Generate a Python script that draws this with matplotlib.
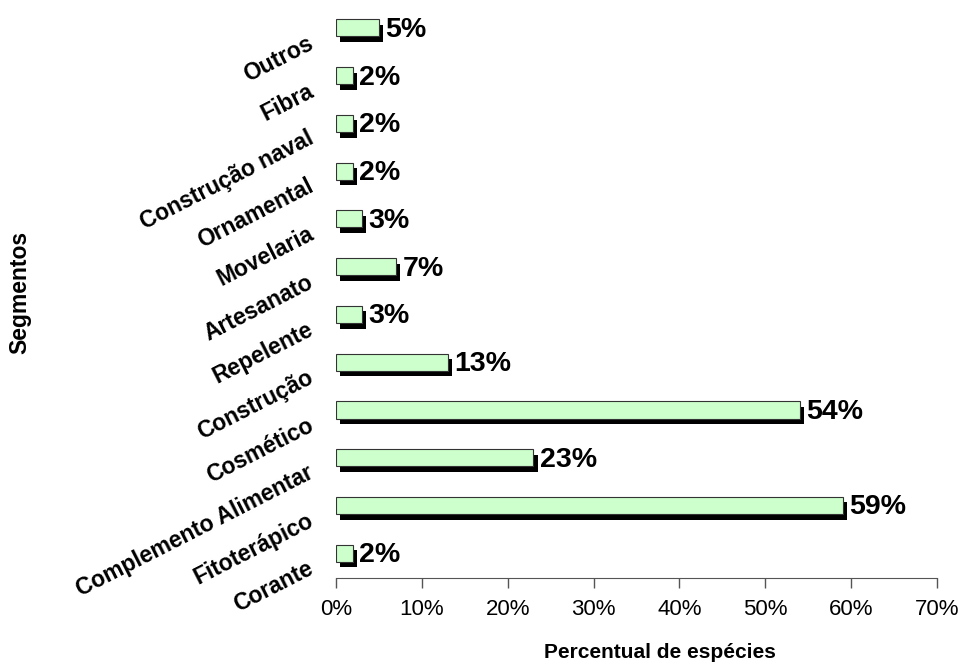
import matplotlib
matplotlib.use("Agg")
import matplotlib.pyplot as plt
import matplotlib.patheffects as pe
import matplotlib.transforms as mtransforms
from matplotlib.ticker import FuncFormatter, MultipleLocator

plt.rcParams['font.family'] = ['Liberation Sans', 'DejaVu Sans']

segments = ["Corante", "Fitoterápico", "Complemento Alimentar", "Cosmético",
            "Construção", "Repelente", "Artesanato", "Movelaria", "Ornamental",
            "Construção naval", "Fibra", "Outros"]
percent = [2, 59, 23, 54, 13, 3, 7, 3, 2, 2, 2, 5]

fig = plt.figure(figsize=(9.61, 6.66), dpi=100)
ax = fig.add_axes([336 / 961, 1 - 578 / 666, (937 - 336) / 961, (578 - 4) / 666])

pos = list(range(len(segments)))
shadow = [pe.SimplePatchShadow(offset=(3, -4), shadow_rgbFace='black', alpha=1.0), pe.Normal()]
bars = ax.barh(pos, percent, height=0.36, color='#CCFFCC', edgecolor='#333333',
               linewidth=0.8, zorder=3)
for b in bars:
    b.set_path_effects(shadow)

for y, v in zip(pos, percent):
    ax.annotate(f"{v}%", (v, y), xytext=(4.5, -1.5), textcoords='offset points',
                ha='left', va='center', fontsize=20.5, fontweight='bold')

ax.set_xlim(0, 70)
ax.set_ylim(-0.52, 11.5)
ax.xaxis.set_major_locator(MultipleLocator(10))
ax.xaxis.set_major_formatter(FuncFormatter(lambda x, _: f"{x:.0f}%"))

ax.set_yticks(pos)
ax.set_yticklabels([])
ax.tick_params(axis='y', length=0)
ax.tick_params(axis='x', direction='out', length=7, width=1, color='#555555',
               labelsize=16, pad=8)

# Slanted category names, sitting a little below each bar's centre
label_tf = ax.get_yaxis_transform() + mtransforms.ScaledTranslation(-24 / 100, -14 / 100,
                                                                    fig.dpi_scale_trans)
for y, name in zip(pos, segments):
    ax.text(0, y, name, transform=label_tf, rotation=27, ha='right', va='center',
            rotation_mode='anchor', fontsize=16.5, fontweight='bold')

for s in ['top', 'right', 'left']:
    ax.spines[s].set_visible(False)
ax.spines['bottom'].set_color('#555555')

fig.text(660 / 961, 1 - 652 / 666, "Percentual de espécies", ha='center', va='center',
         fontsize=15, fontweight='bold')
fig.text(20 / 961, 1 - 292 / 666, "Segmentos", rotation=90, ha='center', va='center',
         fontsize=16.5, fontweight='bold')

fig.savefig("out.png", dpi=100)
